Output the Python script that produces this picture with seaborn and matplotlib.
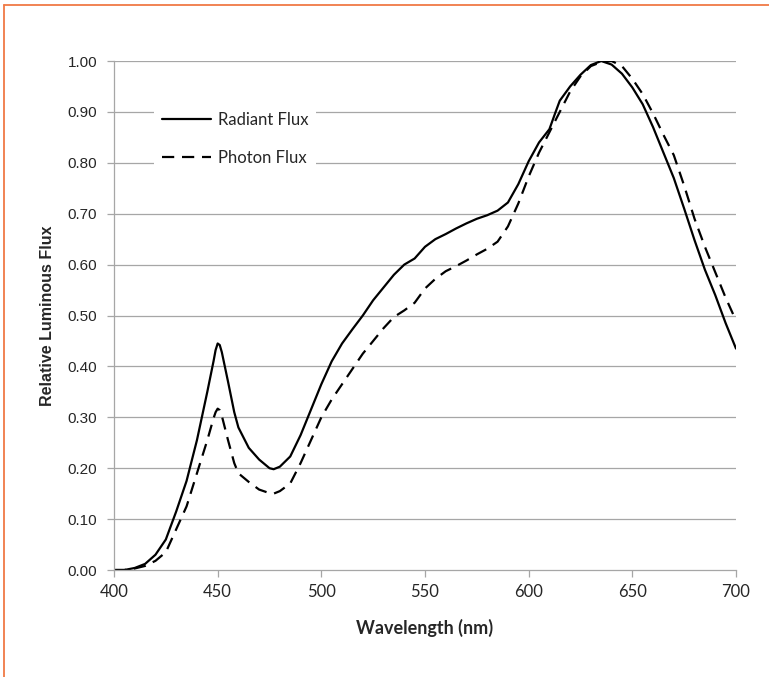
import matplotlib
matplotlib.use("Agg")
import matplotlib.pyplot as plt
from matplotlib.lines import Line2D
import seaborn as sns
import pandas as pd

wl_radiant = [400, 405, 410, 415, 420, 425, 430, 435, 440, 445, 448, 449, 450, 451, 452, 455, 458, 460,
              465, 470, 475, 477, 480, 485, 490, 495, 500, 505, 510, 515, 520, 525, 530, 535,
              540, 545, 550, 555, 560, 565, 570, 575, 580, 585, 590, 595, 600, 605, 610, 613,
              615, 620, 625, 630, 635, 640, 645, 650, 655, 660, 665, 670, 675, 680, 685, 690,
              695, 700]
radiant = [0.0, 0.0, 0.004, 0.012, 0.03, 0.06, 0.115, 0.175, 0.255, 0.35, 0.41, 0.432, 0.445, 0.442, 0.428,
           0.37, 0.31, 0.28, 0.24, 0.217, 0.2, 0.198, 0.203, 0.223, 0.265, 0.315, 0.365, 0.41,
           0.445, 0.473, 0.5, 0.53, 0.555, 0.58, 0.6, 0.612, 0.635, 0.65, 0.66, 0.671, 0.681,
           0.69, 0.697, 0.706, 0.722, 0.758, 0.803, 0.84, 0.866, 0.9, 0.922, 0.95, 0.973, 0.992,
           1.0, 0.993, 0.975, 0.948, 0.915, 0.87, 0.82, 0.77, 0.71, 0.648, 0.59, 0.54, 0.485,
           0.435]

wl_photon = [400, 405, 410, 415, 420, 425, 430, 435, 440, 445, 448, 449, 450, 451, 452, 455, 458, 460,
             465, 470, 475, 477, 480, 485, 490, 495, 500, 505, 510, 515, 520, 525, 530, 535,
             540, 545, 550, 555, 560, 565, 570, 575, 580, 585, 590, 595, 600, 605, 610, 615,
             620, 625, 630, 635, 640, 645, 650, 655, 660, 665, 670, 675, 680, 685, 690, 695,
             700]
photon = [0.0, 0.0, 0.003, 0.008, 0.018, 0.035, 0.08, 0.125, 0.19, 0.255, 0.298, 0.31, 0.317, 0.314, 0.303,
          0.255, 0.21, 0.19, 0.173, 0.158, 0.151, 0.15, 0.155, 0.17, 0.21, 0.255, 0.3, 0.335,
          0.365, 0.395, 0.425, 0.45, 0.475, 0.497, 0.51, 0.525, 0.553, 0.572, 0.587, 0.597,
          0.608, 0.62, 0.631, 0.645, 0.675, 0.72, 0.773, 0.82, 0.86, 0.9, 0.94, 0.97, 0.99,
          0.998, 1.0, 0.99, 0.965, 0.935, 0.897, 0.855, 0.815, 0.755, 0.69, 0.635, 0.585,
          0.535, 0.49]

x_ticks = [400, 450, 500, 550, 600, 650, 700]
y_ticks = [0.0, 0.1, 0.2, 0.3, 0.4, 0.5, 0.6, 0.7, 0.8, 0.9, 1.0]

sns.set_style("white")
plt.rcParams['font.family'] = ['Liberation Sans', 'DejaVu Sans']

fig = plt.figure(figsize=(7.69, 6.77), dpi=100)
W, H = 769, 677
ax = fig.add_axes([114 / W, (H - 570) / H, (736 - 114) / W, (570 - 61) / H])

grid_c = '#a6a6a6'
for yv in y_ticks[1:]:
    ax.axhline(yv, color=grid_c, lw=0.9, zorder=0)

df_r = pd.DataFrame({"wl": wl_radiant, "v": radiant})
df_p = pd.DataFrame({"wl": wl_photon, "v": photon})
sns.lineplot(data=df_r, x="wl", y="v", ax=ax, color='black', lw=1.6, label='Radiant Flux')
sns.lineplot(data=df_p, x="wl", y="v", ax=ax, color='black', lw=1.6, label='Photon Flux')
ax.lines[-1].set_dashes((5.5, 3.5))

ax.set_xlim(400, 700)
ax.set_ylim(0, 1.0)
ax.set_xticks(x_ticks)
ax.set_yticks(y_ticks)
ax.set_yticklabels([f"{v:.2f}" for v in y_ticks], fontsize=11, family='Liberation Sans')
ax.set_xticklabels([str(v) for v in x_ticks], fontsize=12, family='Lato')
ax.tick_params(axis='y', direction='out', length=5, width=0.9, color=grid_c, pad=7, left=True)
ax.tick_params(axis='x', direction='out', length=5, width=0.9, color=grid_c, pad=5, bottom=True)

for s in ['top', 'right']:
    ax.spines[s].set_visible(False)
for s in ['left', 'bottom']:
    ax.spines[s].set_color(grid_c)
    ax.spines[s].set_linewidth(0.9)

ax.set_xlabel("Wavelength (nm)", fontsize=13, fontweight='bold', family='Lato', labelpad=14)
ax.set_ylabel("Relative Luminous Flux", fontsize=11.5, fontweight='bold',
              family='Liberation Sans', labelpad=9)

leg = ax.legend(loc='upper left', bbox_to_anchor=(0.064, 0.917), borderaxespad=0,
                frameon=True, fancybox=False, edgecolor='white', framealpha=1,
                prop={'family': 'Lato', 'size': 12}, handlelength=2.95,
                handletextpad=0.38, labelspacing=1.35, borderpad=0.5)
leg.get_frame().set_linewidth(0)

orange = '#F07A45'
fig.add_artist(Line2D([4 / W, 1], [(H - 5) / H, (H - 5) / H], color=orange, lw=1.3,
                      transform=fig.transFigure))
fig.add_artist(Line2D([4 / W, 4 / W], [0, (H - 5) / H], color=orange, lw=1.3,
                      transform=fig.transFigure))

fig.savefig("out.png", dpi=100)
